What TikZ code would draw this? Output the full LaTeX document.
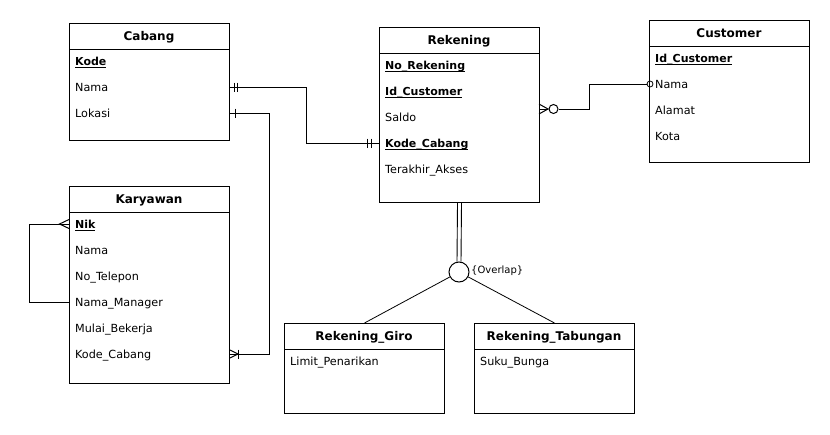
\documentclass[tikz,border=0pt]{standalone}
\usepackage{fontspec}
\setmainfont{DejaVu Sans}
\newcommand\ulkey[1]{\setbox0\hbox{#1}\rlap{\vrule width \wd0 height -2.3pt depth 3.2pt}\box0}
\begin{document}
\begin{tikzpicture}[x=1pt,y=-1pt,
  ent/.style={draw,line width=1pt,minimum width=160pt,inner sep=0pt,anchor=north west},
  hdr/.style={font=\fontsize{12}{14}\selectfont\bfseries,anchor=center,inner sep=0pt,text height=9pt,text depth=0pt},
  attr/.style={font=\fontsize{11.2}{13}\selectfont,anchor=west,inner sep=0pt,text height=8pt,text depth=0pt},
  key/.style={attr,font=\fontsize{11}{13}\selectfont\bfseries},
  conn/.style={line width=1pt},
  sep/.style={line width=1pt},
  thin/.style={line width=0.8pt}]
\useasboundingbox (0,0) rectangle (830,434);

% ---------- Cabang ----------
\node[ent,minimum height=117pt] (cabang) at (69,23) {};
\draw[sep] ([yshift=-26pt]cabang.north west) -- ([yshift=-26pt]cabang.north east);
\node[hdr] (cabang-h) at (149,36) {Cabang};
\node[key]  (cabang-kode)   at (75,61)  {\ulkey{Kode}};
\node[attr] (cabang-nama)   at (75,87)  {Nama};
\node[attr] (cabang-lokasi) at (75,113) {Lokasi};

% ---------- Karyawan ----------
\node[ent,minimum height=197pt] (karyawan) at (69,186) {};
\draw[sep] ([yshift=-26pt]karyawan.north west) -- ([yshift=-26pt]karyawan.north east);
\node[hdr] (karyawan-h) at (149,199) {Karyawan};
\node[key]  (kar-nik)    at (75,224) {\ulkey{Nik}};
\node[attr] (kar-nama)   at (75,250) {Nama};
\node[attr] (kar-telp)   at (75,276) {No\_Telepon};
\node[attr] (kar-mgr)    at (75,302) {Nama\_Manager};
\node[attr] (kar-mulai)  at (75,328) {Mulai\_Bekerja};
\node[attr] (kar-kode)   at (75,354) {Kode\_Cabang};

% ---------- Rekening ----------
\node[ent,minimum height=175pt] (rekening) at (379,27) {};
\draw[sep] ([yshift=-26pt]rekening.north west) -- ([yshift=-26pt]rekening.north east);
\node[hdr] (rekening-h) at (459,40) {Rekening};
\node[key]  (rek-no)    at (385,65)  {\ulkey{No\_Rekening}};
\node[key]  (rek-id)    at (385,91)  {\ulkey{Id\_Customer}};
\node[attr] (rek-saldo) at (385,117) {Saldo};
\node[key]  (rek-kode)  at (385,143) {\ulkey{Kode\_Cabang}};
\node[attr] (rek-akses) at (385,169) {Terakhir\_Akses};

% ---------- Customer ----------
\node[ent,minimum height=142pt] (customer) at (649,20) {};
\draw[sep] ([yshift=-26pt]customer.north west) -- ([yshift=-26pt]customer.north east);
\node[hdr] (customer-h) at (729,33) {Customer};
\node[key]  (cust-id)     at (655,58)  {\ulkey{Id\_Customer}};
\node[attr] (cust-nama)   at (655,84)  {Nama};
\node[attr] (cust-alamat) at (655,110) {Alamat};
\node[attr] (cust-kota)   at (655,136) {Kota};

% ---------- Rekening_Giro ----------
\node[ent,minimum height=90pt] (giro) at (284,323) {};
\draw[sep] ([yshift=-26pt]giro.north west) -- ([yshift=-26pt]giro.north east);
\node[hdr] (giro-h) at (364,336) {Rekening\_Giro};
\node[attr] (giro-limit) at (290,361) {Limit\_Penarikan};

% ---------- Rekening_Tabungan ----------
\node[ent,minimum height=90pt] (tabungan) at (474,323) {};
\draw[sep] ([yshift=-26pt]tabungan.north west) -- ([yshift=-26pt]tabungan.north east);
\node[hdr] (tabungan-h) at (554,336) {Rekening\_Tabungan};
\node[attr] (tab-suku) at (480,361) {Suku\_Bunga};

% ---------- Cabang.Nama -- Rekening.Kode_Cabang (one-one) ----------
\coordinate (j1) at (306,0);
\draw[conn] (cabang.east |- cabang-nama) -| (j1 |- rek-kode) -- (rekening.west |- rek-kode);
\draw[conn] ([xshift=4pt]cabang.east |- cabang-nama) ++(0,-4.5) -- ++(0,9);
\draw[conn] ([xshift=7.5pt]cabang.east |- cabang-nama) ++(0,-4.5) -- ++(0,9);
\draw[conn] ([xshift=-8pt]rekening.west |- rek-kode) ++(0,-4.5) -- ++(0,9);
\draw[conn] ([xshift=-11.5pt]rekening.west |- rek-kode) ++(0,-4.5) -- ++(0,9);

% ---------- Cabang.Lokasi -- Karyawan.Kode_Cabang (one-many) ----------
\coordinate (j2) at (269,0);
\draw[conn] (cabang.east |- cabang-lokasi) -| (j2 |- kar-kode) -- (karyawan.east |- kar-kode);
\draw[conn] ([xshift=5pt]cabang.east |- cabang-lokasi) ++(0,-4.5) -- ++(0,9);
\draw[conn] ([yshift=4pt]karyawan.east |- kar-kode) -- ([xshift=8pt]karyawan.east |- kar-kode)
            -- ([yshift=-4pt]karyawan.east |- kar-kode);
\draw[conn] ([xshift=8pt]karyawan.east |- kar-kode) ++(0,-4.5) -- ++(0,9);

% ---------- Karyawan self relation ----------
\coordinate (j3) at (29,0);
\draw[conn] (karyawan.west |- kar-nik) -| (j3 |- kar-mgr) -- (karyawan.west |- kar-mgr);
\draw[conn] ([yshift=4.5pt]karyawan.west |- kar-nik) -- ([xshift=-9.5pt]karyawan.west |- kar-nik)
            -- ([yshift=-4.5pt]karyawan.west |- kar-nik);

% ---------- Rekening -- Customer (zero-many / zero-one) ----------
\coordinate (rc) at (539,109);
\coordinate (j4) at (589,0);
\node[draw,circle,line width=1pt,minimum size=9pt,inner sep=0pt] (rc-o) at (553.5,109) {};
\node[draw,circle,line width=0.8pt,minimum size=6pt,inner sep=0pt] (cust-o) at ([xshift=1pt]customer.west |- cust-nama) {};
\draw[conn] ([yshift=5pt]rc) -- ([xshift=9pt]rc) -- ([yshift=-5pt]rc);
\draw[conn] (rc) -- ([xshift=9pt]rc);
\draw[conn] (rc-o.east) -| (j4 |- cust-nama) -- (cust-o.west);

% ---------- Specialisation ----------
\node[draw,circle,line width=1pt,minimum size=20pt,inner sep=0pt] (isa) at (459,272) {};
\node[font=\fontsize{10}{11}\selectfont,anchor=west,inner sep=1pt] (ovl) at ([xshift=0.5pt,yshift=1pt]isa.east) {\{Overlap\}};
\draw[line width=0.9pt] ([xshift=-2pt]rekening.south) -- ([xshift=-2pt,yshift=-0.2pt]isa.north);
\draw[line width=0.9pt] ([xshift=2pt]rekening.south) -- ([xshift=2pt,yshift=-0.2pt]isa.north);
\draw[thin] (isa) -- (giro.north);
\draw[thin] (isa) -- (tabungan.north);
\end{tikzpicture}
\end{document}
